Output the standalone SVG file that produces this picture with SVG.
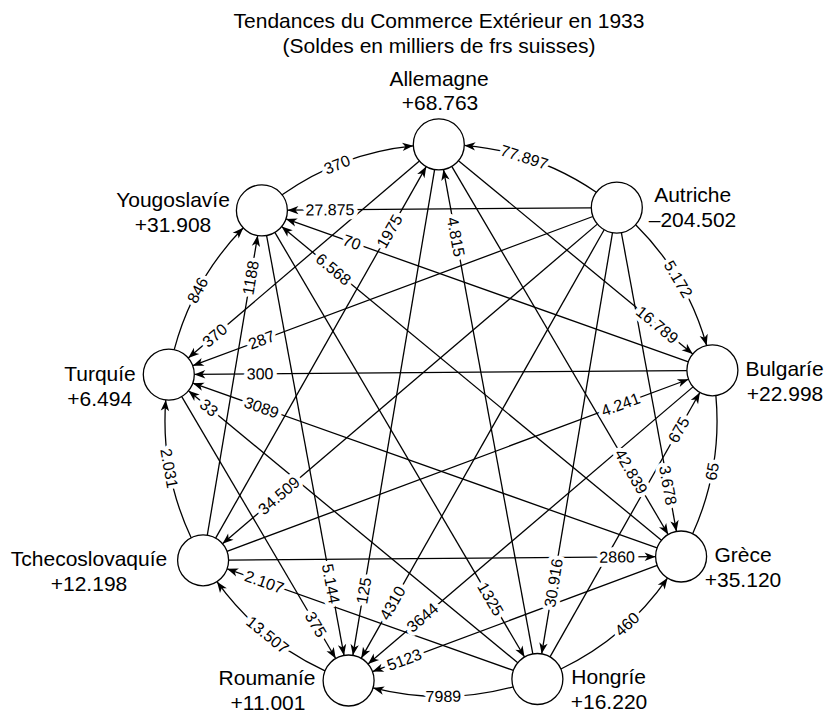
<svg xmlns="http://www.w3.org/2000/svg" width="826" height="713" viewBox="0 0 826 713">
<style>
.e{fill:none;stroke:#000;stroke-width:1.3}
.a{marker-end:url(#ah)}
.l{font-family:"Liberation Sans",Arial,sans-serif;font-size:16px;text-anchor:middle;dominant-baseline:central;fill:#000;stroke:#fff;stroke-width:8;stroke-linejoin:round;paint-order:stroke}
.n{fill:#fff;stroke:#000;stroke-width:1.3}
.t{font-family:"Liberation Sans",Arial,sans-serif;font-size:21px;text-anchor:middle;fill:#000}
</style>
<defs>
<marker id="ah" viewBox="-12 -6 13 12" markerWidth="13" markerHeight="12" refX="0" refY="0" orient="auto" markerUnits="userSpaceOnUse">
<path d="M0,0 L-11,-4.2 L-8,0 L-11,4.2 Z" fill="#000"/>
</marker>
</defs>
<rect width="826" height="713" fill="#fff"/>
<g id="title">
<text class="t" x="439" y="27.5">Tendances du Commerce Extérieur en 1933</text>
<text class="t" x="439" y="52.5">(Soldes en milliers de frs suisses)</text>
</g>
<g id="connectors" transform="rotate(-0.45 441 420.4)">
<path class="e a" d="M283.88,193.49 A276,276 0 0 1 415.50,145.58"/>
<path class="e a" d="M598.12,193.49 A276,276 0 0 0 466.50,145.58"/>
<path class="e a" d="M637.18,226.26 A276,276 0 0 1 707.22,347.57"/>
<path class="e" d="M716.07,397.78 A276,276 0 0 1 691.75,535.73"/>
<path class="e a" d="M558.95,669.93 A276,276 0 0 0 666.26,579.89"/>
<path class="e a" d="M511.04,687.37 A276,276 0 0 1 370.96,687.37"/>
<path class="e a" d="M323.05,669.93 A276,276 0 0 1 215.74,579.89"/>
<path class="e a" d="M190.25,535.73 A276,276 0 0 1 165.93,397.78"/>
<path class="e a" d="M174.78,347.57 A276,276 0 0 1 244.82,226.26"/>
<line class="e a" x1="460.53" y1="160.79" x2="693.28" y2="356.08"/>
<line class="e a" x1="622.84" y1="234.08" x2="675.59" y2="533.29"/>
<line class="e a" x1="548.15" y1="657.68" x2="700.06" y2="394.55"/>
<line class="e a" x1="656.06" y1="567.12" x2="370.56" y2="671.04"/>
<line class="e a" x1="511.44" y1="671.04" x2="225.94" y2="567.12"/>
<line class="e a" x1="181.94" y1="394.55" x2="333.85" y2="657.68"/>
<line class="e a" x1="206.41" y1="533.29" x2="259.16" y2="234.08"/>
<line class="e a" x1="421.47" y1="160.79" x2="188.72" y2="356.08"/>
<line class="e a" x1="592.91" y1="208.97" x2="289.09" y2="208.97"/>
<line class="e a" x1="453.75" y1="166.48" x2="667.27" y2="536.32"/>
<line class="e a" x1="613.98" y1="234.08" x2="539.83" y2="654.65"/>
<line class="e a" x1="693.28" y1="388.86" x2="366.13" y2="663.37"/>
<line class="e a" x1="227.48" y1="558.4" x2="654.52" y2="558.4"/>
<line class="e a" x1="515.87" y1="663.37" x2="188.72" y2="388.86"/>
<line class="e a" x1="268.02" y1="234.08" x2="342.17" y2="654.65"/>
<line class="e a" x1="214.73" y1="536.32" x2="428.25" y2="166.48"/>
<line class="e a" x1="594.45" y1="217.69" x2="193.15" y2="363.75"/>
<line class="e a" x1="688.85" y1="363.75" x2="287.55" y2="217.69"/>
<line class="e a" x1="530.97" y1="654.65" x2="445.43" y2="169.51"/>
<line class="e a" x1="605.66" y1="231.05" x2="359.35" y2="657.68"/>
<line class="e a" x1="225.94" y1="549.68" x2="688.85" y2="381.19"/>
<line class="e a" x1="656.06" y1="549.68" x2="193.15" y2="381.19"/>
<line class="e a" x1="276.34" y1="231.05" x2="522.65" y2="657.68"/>
<line class="e a" x1="436.57" y1="169.51" x2="351.03" y2="654.65"/>
<line class="e a" x1="598.88" y1="225.36" x2="221.51" y2="542.01"/>
<line class="e a" x1="687.31" y1="372.47" x2="194.69" y2="372.47"/>
<line class="e a" x1="660.49" y1="542.01" x2="283.12" y2="225.36"/>
<g id="edge-labels">
<text class="l" transform="translate(339.1 163.9) rotate(-21.7)">370</text>
<text class="l" transform="translate(526.3 157.9) rotate(18)">77.897</text>
<text class="l" transform="translate(679.3 281.1) rotate(59.7)">5.172</text>
<text class="l" transform="translate(711.8 473.7) rotate(-78.9)">65</text>
<text class="l" transform="translate(625.5 625.6) rotate(-42)">460</text>
<text class="l" transform="translate(441.2 696.4)">7989</text>
<text class="l" transform="translate(265.8 633.6) rotate(39.4)">13.507</text>
<text class="l" transform="translate(168.8 466.2) rotate(80.5)">2.031</text>
<text class="l" transform="translate(198.7 288.3) rotate(-61.4)">846</text>
<text class="l" transform="translate(657.96 326.45) rotate(40)">16.789</text>
<text class="l" transform="translate(667.45 487.10) rotate(80)">3.678</text>
<text class="l" transform="translate(678.61 431.71) rotate(-60)">675</text>
<text class="l" transform="translate(402.42 659.44) rotate(-20)">5123</text>
<text class="l" transform="translate(263.06 580.63) rotate(20)">2.107</text>
<text class="l" transform="translate(314.10 623.47) rotate(60)">375</text>
<text class="l" transform="translate(251.71 276.33) rotate(-80)">1188</text>
<text class="l" transform="translate(215.46 333.65) rotate(-40)">370</text>
<text class="l" transform="translate(331.59 208.97)">27.875</text>
<text class="l" transform="translate(630.77 473.10) rotate(60)">42.839</text>
<text class="l" transform="translate(552.31 583.84) rotate(-80)">30.916</text>
<text class="l" transform="translate(420.91 617.41) rotate(-40)">3644</text>
<text class="l" transform="translate(616.02 558.4)">2860</text>
<text class="l" transform="translate(209.02 405.90) rotate(40)">33</text>
<text class="l" transform="translate(329.51 582.86) rotate(80)">5.144</text>
<text class="l" transform="translate(391 231) rotate(-60)">1975</text>
<text class="l" transform="translate(262.22 338.61) rotate(-20)">287</text>
<text class="l" transform="translate(353.14 241.56) rotate(20)">70</text>
<text class="l" transform="translate(457.32 236.97) rotate(80)">4.815</text>
<text class="l" transform="translate(391.10 602.68) rotate(-60)">4310</text>
<text class="l" transform="translate(620.72 405.99) rotate(-20)">4.241</text>
<text class="l" transform="translate(261.66 406.12) rotate(20)">3089</text>
<text class="l" transform="translate(489.05 599.48) rotate(60)">1325</text>
<text class="l" transform="translate(362.40 590.14) rotate(-80)">125</text>
<text class="l" transform="translate(278.35 494.31) rotate(-40)">34.509</text>
<text class="l" transform="translate(260.49 372.47)">300</text>
<text class="l" transform="translate(334.53 268.49) rotate(40)">6.568</text>
</g>
</g>
<g id="node-allemagne"><circle class="n" cx="438.8" cy="144.4" r="25.5"/><text class="t" x="439" y="86">Allemagne</text><text class="t" x="440" y="110">+68.763</text></g>
<g id="node-autriche"><circle class="n" cx="616.8" cy="207.6" r="25.5"/><text class="t" x="692.7" y="201.7">Autriche</text><text class="t" x="692.5" y="226.7">–204.502</text></g>
<g id="node-bulgarie"><circle class="n" cx="712.4" cy="370.3" r="25.5"/><text class="t" x="784.5" y="376">Bulgaríe</text><text class="t" x="785" y="400.5">+22.998</text></g>
<g id="node-grece"><circle class="n" cx="681.1" cy="556.5" r="25.5"/><text class="t" x="743" y="561.7">Grèce</text><text class="t" x="743" y="586.7">+35.120</text></g>
<g id="node-hongrie"><circle class="n" cx="537.4" cy="679.0" r="25.5"/><text class="t" x="608.7" y="684">Hongríe</text><text class="t" x="609" y="709">+16.220</text></g>
<g id="node-roumanie"><circle class="n" cx="348.6" cy="680.5" r="25.5"/><text class="t" x="267" y="685">Roumaníe</text><text class="t" x="268" y="710">+11.001</text></g>
<g id="node-tchecoslovaquie"><circle class="n" cx="203.1" cy="560.3" r="25.5"/><text class="t" x="89" y="566">Tchecoslovaquíe</text><text class="t" x="89" y="591">+12.198</text></g>
<g id="node-turquie"><circle class="n" cx="168.8" cy="374.6" r="25.5"/><text class="t" x="100" y="380.7">Turquíe</text><text class="t" x="99.7" y="406">+6.494</text></g>
<g id="node-yougoslavie"><circle class="n" cx="261.9" cy="210.4" r="25.5"/><text class="t" x="173" y="207.3">Yougoslavíe</text><text class="t" x="173" y="232.3">+31.908</text></g>
</svg>
